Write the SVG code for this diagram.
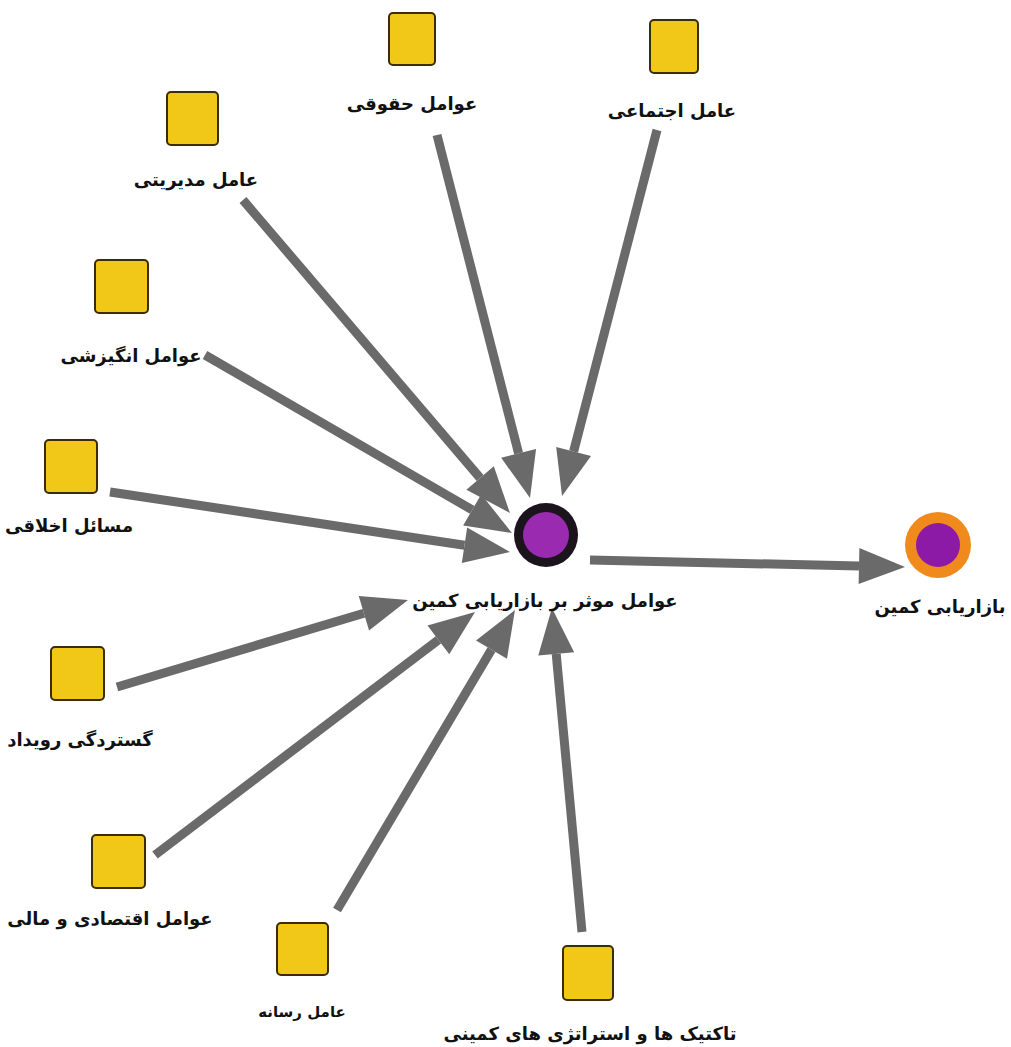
<svg xmlns="http://www.w3.org/2000/svg" width="1011" height="1047" viewBox="0 0 1011 1047">
<style>
.sq{fill:#f1c817;stroke:#3b2c05;stroke-width:2}
.lbl{font-family:"DejaVu Sans",sans-serif;font-weight:bold;font-size:18px;fill:#111;text-anchor:middle;direction:rtl}
.sm{font-size:15px}
.e{stroke:#6a6a6a;stroke-width:9;fill:none;marker-end:url(#ah)}
</style>
<defs>
<marker id="ah" markerUnits="userSpaceOnUse" viewBox="0 -19 47 38" refX="0" refY="0" markerWidth="47" markerHeight="38" orient="auto" overflow="visible">
<path d="M0,-18 L46,0 L0,18 z" fill="#6a6a6a"/>
</marker>
</defs>
<rect width="1011" height="1047" fill="#ffffff"/>
<g id="connectors">
<line class="e" x1="437" y1="135" x2="518.6" y2="453.4"/>
<line class="e" x1="657" y1="130" x2="573.6" y2="451.5"/>
<line class="e" x1="243" y1="200" x2="480.1" y2="478.0"/>
<line class="e" x1="205" y1="355" x2="472.2" y2="509.9"/>
<line class="e" x1="110" y1="492" x2="464.5" y2="545.2"/>
<line class="e" x1="117" y1="687" x2="363.9" y2="613.2"/>
<line class="e" x1="155" y1="855" x2="438.4" y2="639.8"/>
<line class="e" x1="337" y1="910" x2="491.5" y2="649.6"/>
<line class="e" x1="582" y1="932" x2="556.2" y2="653.8"/>
<line class="e" x1="590" y1="560" x2="859" y2="566"/>
</g>
<g id="n-legal"><rect class="sq" x="389" y="13" width="46" height="52" rx="4"/><text class="lbl" x="412" y="110">عوامل حقوقی</text></g>
<g id="n-social"><rect class="sq" x="650" y="20" width="48" height="53" rx="4"/><text class="lbl" x="672" y="117">عامل اجتماعی</text></g>
<g id="n-management"><rect class="sq" x="167" y="92" width="51" height="53" rx="4"/><text class="lbl" x="196" y="186">عامل مدیریتی</text></g>
<g id="n-motivation"><rect class="sq" x="95" y="260" width="53" height="53" rx="4"/><text class="lbl" x="131" y="362">عوامل انگیزشی</text></g>
<g id="n-ethics"><rect class="sq" x="45" y="440" width="52" height="53" rx="4"/><text class="lbl" x="69" y="532">مسائل اخلاقی</text></g>
<g id="n-scope"><rect class="sq" x="51" y="647" width="53" height="53" rx="4"/><text class="lbl" x="80" y="746">گستردگی رویداد</text></g>
<g id="n-economic"><rect class="sq" x="92" y="835" width="53" height="53" rx="4"/><text class="lbl" x="110" y="925">عوامل اقتصادی و مالی</text></g>
<g id="n-media"><rect class="sq" x="277" y="923" width="51" height="52" rx="4"/><text class="lbl sm" x="302" y="1017">عامل رسانه</text></g>
<g id="n-tactics"><rect class="sq" x="563" y="946" width="50" height="54" rx="4"/><text class="lbl" x="590" y="1040">تاکتیک ها و استراتژی های کمینی</text></g>
<g id="n-center"><circle cx="546" cy="535" r="32" fill="#1c141c"/><circle cx="546" cy="535" r="23" fill="#9a2bb0"/><text class="lbl" x="545" y="607">عوامل موثر بر بازاریابی کمین</text></g>
<g id="n-ambush"><circle cx="938" cy="545" r="33" fill="#f08a1c"/><circle cx="938" cy="545" r="22" fill="#8c1aa6"/><text class="lbl" x="940" y="613">بازاریابی کمین</text></g>
</svg>
